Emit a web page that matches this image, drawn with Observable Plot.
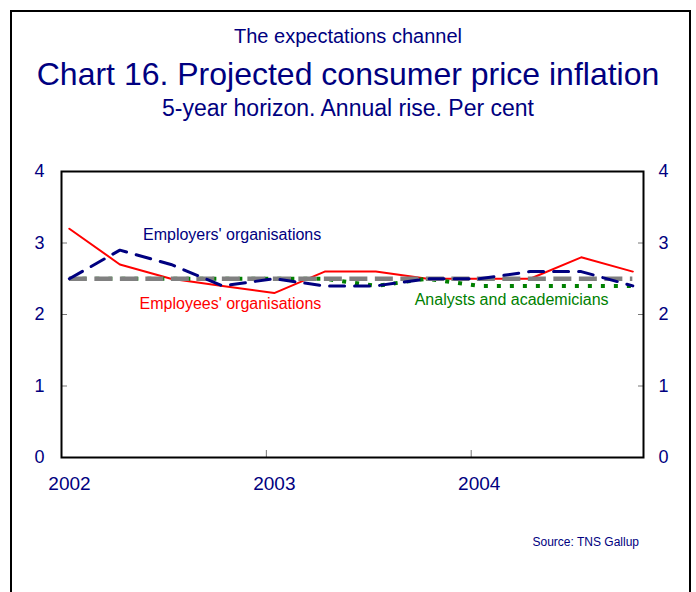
<!DOCTYPE html>
<html><head><meta charset="utf-8">
<script src="https://cdn.jsdelivr.net/npm/d3@7"></script>
<script src="https://cdn.jsdelivr.net/npm/@observablehq/plot@0.6"></script>
<style>
body{margin:0;background:#fff;font-family:"Liberation Sans",Arial,sans-serif;}
#page{position:relative;width:696px;height:592px;overflow:hidden;background:#fff;}
#border{position:absolute;left:10px;top:10px;width:677px;height:640px;border:2px solid #000;}
.t{position:absolute;left:0;width:696px;text-align:center;color:#000080;line-height:1;white-space:nowrap;}
</style></head><body>
<div id="page">
<div id="border"></div>
<div class="t" style="top:26px;font-size:20px">The expectations channel</div>
<div class="t" style="top:58px;font-size:32px">Chart 16. Projected consumer price inflation</div>
<div class="t" style="top:97px;font-size:23px">5-year horizon. Annual rise. Per cent</div>
<div id="chart" style="position:absolute;left:0;top:150px"></div>
<div style="position:absolute;right:57px;top:536px;font-size:12px;line-height:1;color:#000080">Source: TNS Gallup</div>
</div>
<script>
// Survey dates (quarterly)
const dates = ["2002-01-15","2002-04-15","2002-07-15","2002-10-15",
               "2003-01-15","2003-04-15","2003-07-15","2003-10-15",
               "2004-01-15","2004-04-15","2004-07-15","2004-10-15"];
const employees = [3.2, 2.7, 2.5, 2.4, 2.3, 2.6, 2.6, 2.5, 2.5, 2.5, 2.8, 2.6];
const employers = [2.5, 2.9, 2.7, 2.4, 2.5, 2.4, 2.4, 2.5, 2.5, 2.6, 2.6, 2.4];
const analysts  = [2.5, 2.5, 2.5, 2.5, 2.5, 2.5, 2.4, 2.5, 2.4, 2.4, 2.4, 2.4];
const target = 2.5;

const xDomain = ["2002-01-01", "2004-11-03"];
const xTicks = ["2002-01-01", "2003-01-01", "2004-01-01"];
const yTicks = [0, 1, 2, 3, 4];

const labelText  = ["Employers' organisations", "Employees' organisations", "Analysts and academicians"];
const labelDate  = ["2002-11-01", "2002-10-29", "2004-03-13"];
const labelValue = [3.12, 2.15, 2.2];
const labelColor = ["#000080", "#ff0000", "#008000"];

const navy = "#000080";
const D = s => new Date(s);
const rows = vals => dates.map((d, i) => ({date: D(d), value: vals[i]}));
const labels = labelText.map((t, i) => ({text: t, date: D(labelDate[i]), value: labelValue[i], color: labelColor[i]}));
const fmtY = d3.format("d");

const chart = Plot.plot({
  width: 696,
  height: 360,
  marginLeft: 61,
  marginRight: 53,
  marginTop: 21,
  marginBottom: 53,
  style: {fontFamily: "Liberation Sans, Arial, sans-serif", background: "transparent"},
  x: {type: "utc", domain: xDomain.map(D)},
  y: {domain: [0, 4]},
  marks: [
    // inward tick marks
    Plot.axisY({ticks: yTicks, anchor: "left", tickSize: 6, dx: 6, tickFormat: () => "", stroke: "#777", label: null}),
    Plot.axisY({ticks: yTicks, anchor: "right", tickSize: 6, dx: -6, tickFormat: () => "", stroke: "#777", label: null}),
    Plot.axisX({ticks: xTicks.map(D), anchor: "bottom", tickSize: 7, dy: -7, tickFormat: () => "", stroke: "#777", label: null}),
    // tick labels
    Plot.axisY({ticks: yTicks, anchor: "left", tickSize: 0, tickPadding: 17, fontSize: 18, fill: navy, tickFormat: fmtY, label: null}),
    Plot.axisY({ticks: yTicks, anchor: "right", tickSize: 0, tickPadding: 15, fontSize: 18, fill: navy, tickFormat: fmtY, label: null}),
    Plot.axisX({ticks: xTicks.map(D), anchor: "bottom", tickSize: 0, tickPadding: 19, dx: 8, fontSize: 19, fill: navy, tickFormat: d3.utcFormat("%Y"), label: null}),
    Plot.frame({stroke: "#000", strokeWidth: 2}),
    Plot.line(rows(employees), {x: "date", y: "value", stroke: "#ff0000", strokeWidth: 2}),
    Plot.line(rows(analysts), {x: "date", y: "value", stroke: "#008000", strokeWidth: 4, strokeDasharray: "4,9", strokeLinecap: "butt"}),
    Plot.ruleY([target], {x1: D(dates[0]), x2: D(dates[dates.length - 1]), stroke: "#808080", strokeWidth: 4.5, strokeDasharray: "18,7.5"}),
    Plot.line(rows(employers), {x: "date", y: "value", stroke: navy, strokeWidth: 3, strokeDasharray: "15,10"}),
    Plot.text(labels, {x: "date", y: "value", text: "text", fill: "color", fontSize: 16})
  ]
});
document.getElementById("chart").appendChild(chart);
</script>
</body></html>
